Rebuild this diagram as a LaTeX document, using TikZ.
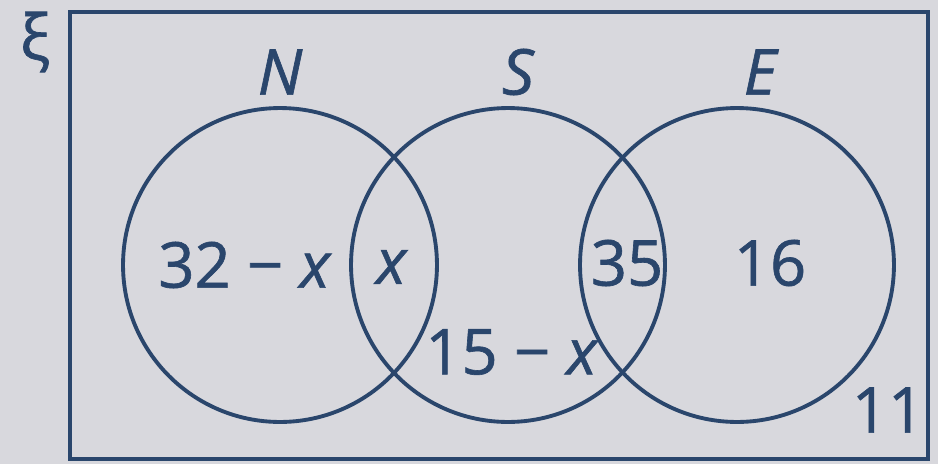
\documentclass[tikz,border=0pt]{standalone}
\usepackage{fontspec}
\setmainfont{Open Sans}[FakeBold=1.0]
\definecolor{ink}{RGB}{42,70,108}
\definecolor{paper}{RGB}{216,216,221}
\begin{document}
\begin{tikzpicture}[x=0.02cm,y=-0.02cm,
    set/.style={circle,draw=ink,line width=2.2pt,minimum size=6.28cm,inner sep=0pt},
    lbl/.style={text=ink,font=\fontsize{36}{40}\selectfont}]
    \fill[paper] (0,0) rectangle (938,464);
    \useasboundingbox (0,0) rectangle (938,464);
    \draw[ink,line width=2.2pt] (70,12) rectangle (928,459);
    \node[lbl] (xi) at (35,42) {ξ};

    \node[set] (setN) at (280,265) {};
    \node[set] (setS) at (508,265) {};
    \node[set] (setE) at (737,265) {};

    \node[lbl] (nameN) at (280,72) {\itshape N};
    \node[lbl] (nameS) at (518,72) {\itshape S};
    \node[lbl] (nameE) at (760,72) {\itshape E};

    \node[lbl] (onlyN) at (245,265) {32 − \textit{x}};
    \node[lbl] (nands) at (392,267) {\textit{x}};
    \node[lbl] (sande) at (627,263) {35};
    \node[lbl] (onlyE) at (770,263) {16};
    \node[lbl] (onlyS) at (512,352) {15 − \textit{x}};
    \node[lbl] (none) at (888,410) {11};
\end{tikzpicture}
\end{document}
